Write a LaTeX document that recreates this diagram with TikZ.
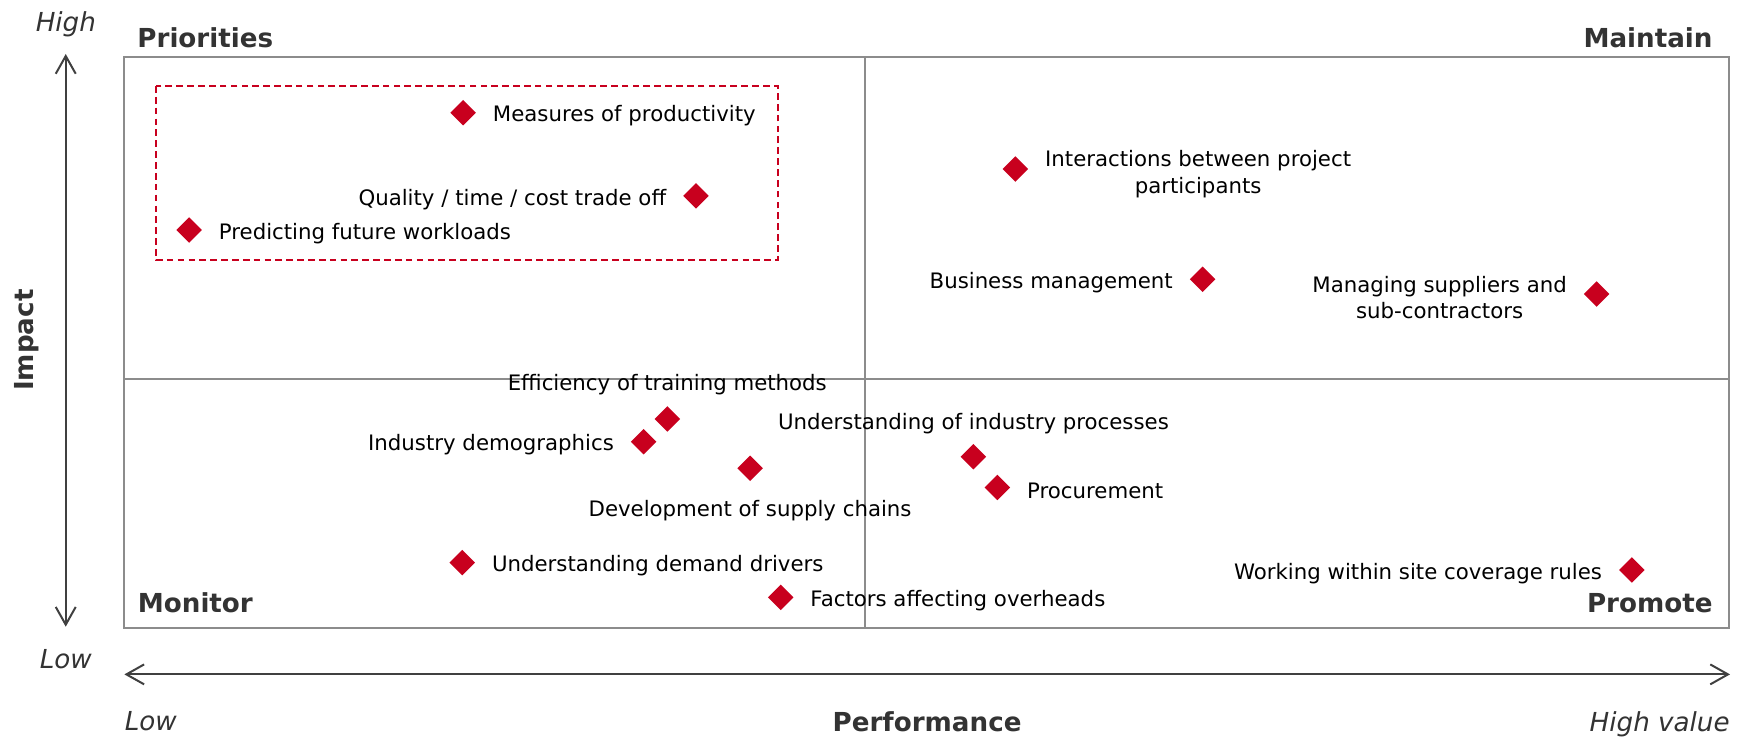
\documentclass[tikz,border=0pt]{standalone}
\usepackage{fontspec}
\setmainfont{DejaVu Sans}
\usetikzlibrary{shapes.geometric,positioning,arrows.meta}
\definecolor{dotred}{RGB}{200,0,30}
\definecolor{framegray}{RGB}{140,140,140}
\definecolor{axisgray}{RGB}{64,64,64}
\definecolor{headgray}{RGB}{51,51,51}
\tikzset{
  item/.style={diamond,fill=dotred,inner sep=0pt,outer sep=0pt,
    minimum width=11.5pt,minimum height=11.5pt},
  itemtext/.style={font=\fontsize{9.6pt}{11.75pt}\selectfont,inner sep=0pt,align=center,yshift=-1.5pt},
  quadrant/.style={font=\fontsize{11.8pt}{14pt}\selectfont\bfseries,text=headgray,inner sep=0pt},
  axistext/.style={font=\fontsize{11.8pt}{14pt}\selectfont\itshape,text=headgray,inner sep=0pt},
  axisline/.style={draw=axisgray,line width=0.9pt,
    {Straight Barb[length=8pt,width=9pt]}-{Straight Barb[length=8pt,width=9pt]}}
}

\begin{document}
\begin{tikzpicture}[x=0.5pt,y=-0.5pt,node distance=7.5pt]
		\useasboundingbox (0,0) rectangle (1568,666);

		\draw[framegray,line width=0.9pt] (112.2,51.7) rectangle (1559.6,566.3);
		\draw[framegray,line width=0.9pt] (780.4,51.7) -- (780.4,566.3);
		\draw[framegray,line width=0.9pt] (112.2,342.2) -- (1559.6,342.2);
		\draw[dotred,line width=0.9pt,dash pattern=on 3pt off 1.9pt] (140.9,77.6) rectangle (701.6,234.6);

		\coordinate (y_hi) at (59.3,48.7);
		\coordinate (y_lo) at (59.3,565.4);
		\coordinate (x_lo) at (112.2,608.4);
		\coordinate (x_hi) at (1560.8,608.4);
		\draw[axisline] (y_hi) -- (y_lo);
		\draw[axisline] (x_lo) -- (x_hi);

		\node[axistext,anchor=base] (t_high) at (59.4,28.6) {High};
		\node[axistext,anchor=base] (t_low) at (59.4,603) {Low};
		\node[axistext,anchor=base west] (p_low) at (112.2,659.2) {Low};
		\node[axistext,anchor=base east] (p_high) at (1560.8,660) {High value};
		\node[quadrant,anchor=base] (p_name) at (836.4,660) {Performance};
		\node[quadrant,anchor=base,rotate=90] (t_name) at (30,306.8) {Impact};

		\node[quadrant,anchor=base west] (q_pri) at (123.6,42.4) {Priorities};
		\node[quadrant,anchor=base east] (q_mai) at (1545.4,42.4) {Maintain};
		\node[quadrant,anchor=base west] (q_mon) at (124,552.2) {Monitor};
		\node[quadrant,anchor=base east] (q_pro) at (1545.4,552.2) {Promote};

		\node[item] (d_1) at (417.8,101.7) {};
		\node[itemtext,right=of d_1] (l_1) {Measures of productivity};

		\node[item] (d_2) at (627.9,176.8) {};
		\node[itemtext,left=of d_2] (l_2) {Quality / time / cost trade off};

		\node[item] (d_3) at (170.6,207.5) {};
		\node[itemtext,right=of d_3] (l_3) {Predicting future workloads};

		\node[item] (d_4) at (916,152.5) {};
		\node[itemtext,right=of d_4,yshift=-0.8pt] (l_4) {Interactions between project\\participants};

		\node[item] (d_5) at (1085,252) {};
		\node[itemtext,left=of d_5] (l_5) {Business management};

		\node[item] (d_6) at (1440.4,265.3) {};
		\node[itemtext,left=of d_6] (l_6) {Managing suppliers and\\sub-contractors};

		\node[item] (d_7) at (602,378) {};
		\node[itemtext,above=6.3pt of d_7] (l_7) {Efficiency of training methods};

		\node[item] (d_8) at (580.7,398.5) {};
		\node[itemtext,left=of d_8] (l_8) {Industry demographics};

		\node[item] (d_9) at (676.7,422.5) {};
		\node[itemtext,below=7pt of d_9] (l_9) {Development of supply chains};

		\node[item] (d_10) at (878.2,412) {};
		\node[itemtext,above=6pt of d_10] (l_10) {Understanding of industry processes};

		\node[item] (d_11) at (899.8,439.7) {};
		\node[itemtext,right=of d_11] (l_11) {Procurement};

		\node[item] (d_12) at (417,507.6) {};
		\node[itemtext,right=of d_12] (l_12) {Understanding demand drivers};

		\node[item] (d_13) at (704.3,538.9) {};
		\node[itemtext,right=of d_13] (l_13) {Factors affecting overheads};

		\node[item] (d_14) at (1472.2,514.2) {};
		\node[itemtext,left=of d_14] (l_14) {Working within site coverage rules};
\end{tikzpicture}
\end{document}
